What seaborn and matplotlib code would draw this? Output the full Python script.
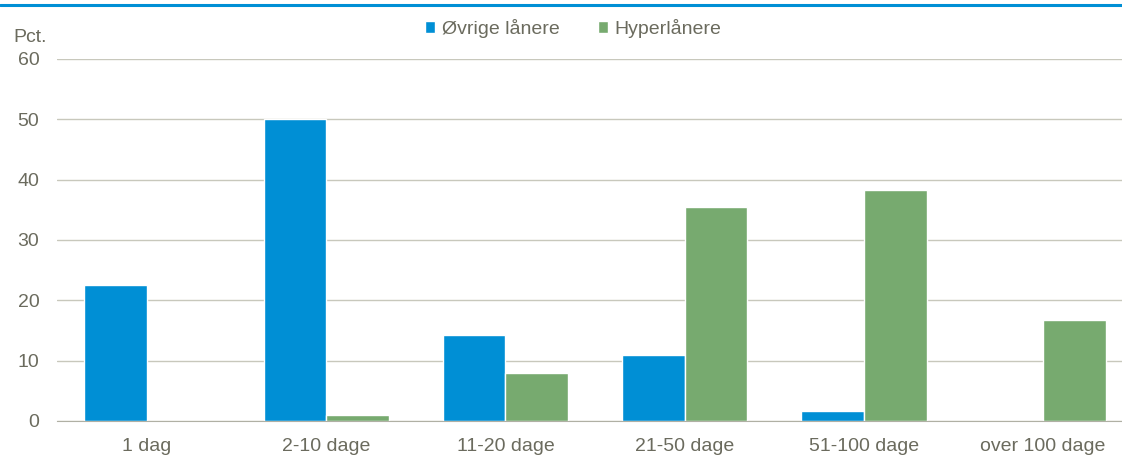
import pandas as pd
import matplotlib
matplotlib.use('Agg')
import matplotlib.pyplot as plt
import seaborn as sns

# Data
categories = ['1 dag', '2-10 dage', '11-20 dage', '21-50 dage', '51-100 dage', 'over 100 dage']
ovrige = [22.5, 50.0, 14.3, 10.9, 1.7, 0.0]
hyper = [0.0, 1.0, 8.0, 35.5, 38.2, 16.7]
series = ['Øvrige lånere', 'Hyperlånere']
yticks = [0, 10, 20, 30, 40, 50, 60]

df = pd.DataFrame({
    'kategori': categories * 2,
    'serie': [series[0]] * len(categories) + [series[1]] * len(categories),
    'pct': ovrige + hyper,
})

sns.set_style('white')
plt.rcParams['font.family'] = ['Liberation Sans', 'DejaVu Sans']
text_col = '#6b6b5e'
grid_col = '#c8c8bc'
fs = 14

fig = plt.figure(figsize=(11.22, 4.58), dpi=100)
# axes runs a bit past the right edge, like the original
ax = fig.add_axes([0.0512, 0.0808, 0.9583, 0.7905])

sns.barplot(data=df, x='kategori', y='pct', hue='serie',
            palette=['#008fd5', '#77aa6f'], width=0.70,
            edgecolor='white', linewidth=1, saturation=1, ax=ax)

ax.set_ylim(0, 60)
ax.set_yticks(yticks)
ax.set_xlim(-0.5, len(categories) - 0.5)
ax.yaxis.grid(True, color=grid_col, linewidth=1)
ax.set_axisbelow(True)
for s in ['top', 'right', 'left']:
    ax.spines[s].set_visible(False)
ax.spines['bottom'].set_color('#b0b0a4')
ax.tick_params(axis='both', length=0, labelsize=fs, colors=text_col)
ax.tick_params(axis='x', pad=12)
ax.tick_params(axis='y', pad=13)
ax.set_xlabel('')
ax.set_ylabel('')

fig.text(0.012, 0.918, 'Pct.', fontsize=fs, color=text_col, va='center')

leg = ax.legend(loc='center', bbox_to_anchor=(0.511, 0.938), bbox_transform=fig.transFigure,
                ncol=2, frameon=False, fontsize=fs, handlelength=0.5, handleheight=0.5,
                handletextpad=0.35, columnspacing=2.0)
for t in leg.get_texts():
    t.set_color(text_col)

# blue rule along the top
fig.add_artist(plt.Line2D([0, 1], [0.989, 0.989], transform=fig.transFigure,
                          color='#008fd5', linewidth=2.2))

fig.savefig('out.png', dpi=100)
